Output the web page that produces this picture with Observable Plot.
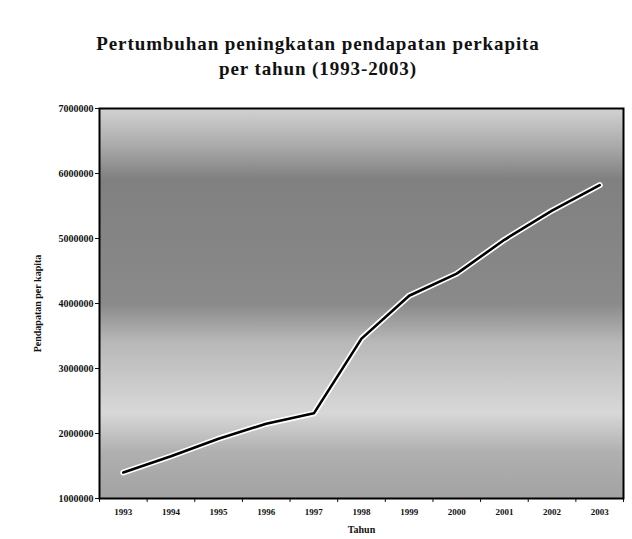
<!DOCTYPE html>
<html>
<head>
<meta charset="utf-8">
<script src="https://cdn.jsdelivr.net/npm/d3@7"></script>
<script src="https://cdn.jsdelivr.net/npm/@observablehq/plot@0.6"></script>
<style>
  html, body { margin: 0; padding: 0; background: #fff; }
  #title { width: 632px; height: 90px; box-sizing: border-box; padding-top: 31px; padding-left: 4px;
    text-align: center; font-family: "Liberation Serif", serif; font-weight: bold;
    font-size: 19px; letter-spacing: 0.9px; line-height: 25px; color: #111; }
  #chart svg { display: block; }
</style>
</head>
<body>
<div id="title">Pertumbuhan peningkatan pendapatan perkapita<br>per tahun (1993-2003)</div>
<div id="chart"></div>
<script>
const years = [1993, 1994, 1995, 1996, 1997, 1998, 1999, 2000, 2001, 2002, 2003];
const income = [1400000, 1650000, 1920000, 2150000, 2310000, 3460000, 4120000, 4460000, 4980000, 5430000, 5820000];
const yTicks = [1000000, 2000000, 3000000, 4000000, 5000000, 6000000, 7000000];
const xLabel = "Tahun";
const yLabel = "Pendapatan per kapita";

const data = years.map((y, i) => ({year: y, value: income[i]}));
const boundaries = [...years.map(y => y - 0.5), years[years.length - 1] + 0.5];

const plot = Plot.plot({
  width: 632,
  height: 449,
  marginTop: 18,
  marginBottom: 41,
  marginLeft: 99,
  marginRight: 9,
  style: {fontFamily: "Liberation Serif, serif", fontSize: "9px", fontWeight: "bold", color: "#111", background: "transparent"},
  x: {domain: [years[0] - 0.5, years[years.length - 1] + 0.5]},
  y: {domain: [yTicks[0], yTicks[yTicks.length - 1]]},
  marks: [
    Plot.frame({fill: "url(#bgGrad)"}),
    Plot.axisY({ticks: yTicks, tickFormat: d => String(d), tickSize: 4, tickPadding: 2,
      label: yLabel, labelAnchor: "center", labelArrow: "none", labelOffset: 66, fontSize: 10}),
    Plot.axisX({ticks: years, tickFormat: d => String(d), tickSize: 0, tickPadding: 10, label: null}),
    Plot.axisX({ticks: boundaries, tickFormat: () => "", tickSize: 4, label: xLabel,
      labelAnchor: "center", labelArrow: "none", labelOffset: 34, fontSize: 10}),
    Plot.line(data, {x: "year", y: "value", stroke: "white", strokeWidth: 6}),
    Plot.line(data, {x: "year", y: "value", stroke: "black", strokeWidth: 2.6}),
    Plot.frame({stroke: "black", strokeWidth: 2})
  ]
});

const svg = d3.select(plot);
const defs = svg.insert("defs", ":first-child");
const grad = defs.append("linearGradient").attr("id", "bgGrad")
  .attr("x1", 0).attr("y1", 0).attr("x2", 0).attr("y2", 1);
[[0, "#d2d2d2"], [0.1, "#a8a8a8"], [0.18, "#808080"], [0.5, "#8a8a8a"], [0.6, "#b8b8b8"],
 [0.78, "#d8d8d8"], [0.88, "#b0b0b0"], [1, "#a2a2a2"]].forEach(([o, c]) =>
  grad.append("stop").attr("offset", o).attr("stop-color", c));

document.getElementById("chart").appendChild(plot);
</script>
</body>
</html>
